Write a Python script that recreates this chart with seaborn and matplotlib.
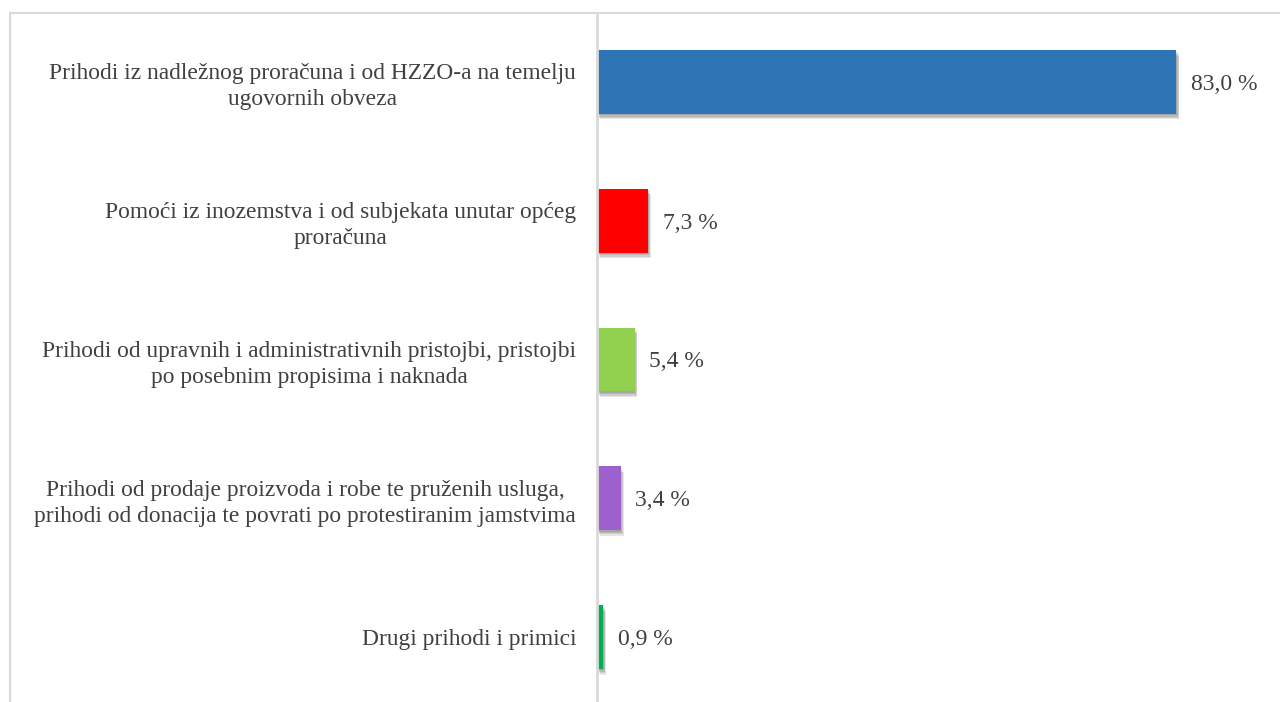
import pandas as pd
import seaborn as sns
import matplotlib.pyplot as plt
import matplotlib.patheffects as pe
from matplotlib.patches import Rectangle

# podaci
kategorije = [
    'Prihodi iz nadležnog proračuna i od HZZO-a na temelju\nugovornih obveza',
    'Pomoći iz inozemstva i od subjekata unutar općeg\nproračuna',
    'Prihodi od upravnih i administrativnih pristojbi, pristojbi\npo posebnim propisima i naknada',
    'Prihodi od prodaje proizvoda i robe te pruženih usluga,\nprihodi od donacija te povrati po protestiranim jamstvima',
    'Drugi prihodi i primici',
]
udjeli = [83.0, 7.3, 5.4, 3.4, 0.9]
boje = ['#2E75B6', '#FF0000', '#92D050', '#9E5FCF', '#00B050']

df = pd.DataFrame({'kategorija': kategorije, 'udio': udjeli})

sns.set_theme(style='white')
plt.rcParams['font.family'] = ['Liberation Serif', 'DejaVu Serif']

fig = plt.figure(figsize=(12.8, 7.02), dpi=100)
# vanjski okvir grafikona
fig.patches.append(Rectangle((10 / 1280, -0.1), 1.2, (702 - 13) / 702 + 0.1,
                             transform=fig.transFigure, fill=False,
                             edgecolor='#D9D9D9', linewidth=1.5))

ax = fig.add_axes([597 / 1280, 0, 0.6, (702 - 13) / 702])

sns.barplot(data=df, x='udio', y='kategorija', hue='kategorija', palette=boje,
            legend=False, orient='h', width=0.46, ax=ax, saturation=1,
            edgecolor='none', linewidth=0)

# mekana sjena ispod stupaca
sjena = [pe.SimplePatchShadow(offset=(dx, dy), shadow_rgbFace='black', alpha=0.1)
         for dx, dy in [(0.5, -1), (1, -2), (1.5, -3), (2, -4)]]
for bar in ax.patches:
    bar.set_path_effects(sjena + [pe.Normal()])

for i, v in enumerate(udjeli):
    ax.text(v + 2.1, i, f'{v:.1f} %'.replace('.', ','), va='center_baseline', ha='left',
            fontsize=17, color='#404040')

ax.set_xlim(0, 110)
ax.set_ylim(4 + 65 / 139, -69 / 139)
ax.set_xlabel('')
ax.set_ylabel('')
ax.set_xticks([])
for s in ['top', 'right', 'bottom']:
    ax.spines[s].set_visible(False)
ax.spines['left'].set_color('#D9D9D9')
ax.spines['left'].set_linewidth(2)
ax.tick_params(axis='y', length=0, pad=15, labelsize=16.9, labelcolor='#404040')
for lbl in ax.get_yticklabels():
    lbl.set_multialignment('center')
    lbl.set_linespacing(1.3)

plt.savefig('out.png', dpi=100)
